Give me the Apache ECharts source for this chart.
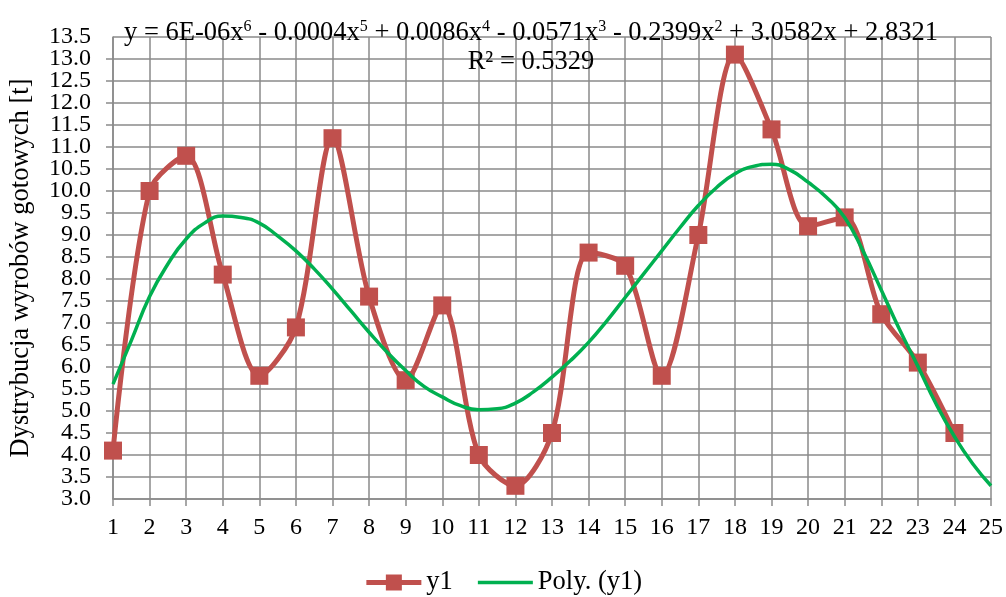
<!DOCTYPE html>
<html><head><meta charset="utf-8">
<script src="https://cdn.jsdelivr.net/npm/echarts@6/dist/echarts.min.js"></script>
<style>html,body{margin:0;padding:0;background:#fff}#c{width:1006px;height:597px}</style>
</head><body><div id="c"></div>
<script>
const xValues = [1,2,3,4,5,6,7,8,9,10,11,12,13,14,15,16,17,18,19,20,21,22,23,24];
const y1Values = [4.1,10.0,10.8,8.1,5.8,6.9,11.2,7.6,5.7,7.4,4.0,3.3,4.5,8.6,8.3,5.8,9.0,13.1,11.4,9.2,9.4,7.2,6.1,4.5];
// trend line every half step
const polyX = [1,1.5,2,2.5,3,3.5,4,4.5,5,5.5,6,6.5,7,7.5,8,8.5,9,9.5,10,10.5,11,11.5,12,12.5,13,13.5,14,14.5,15,15.5,16,16.5,17,17.5,18,18.5,19,19.5,20,20.5,21,21.5,22,22.5,23,23.5,24,24.5,25];
const polyValues = [5.61,6.6,7.6,8.34,8.91,9.27,9.43,9.4,9.27,8.98,8.64,8.23,7.77,7.28,6.79,6.33,5.92,5.56,5.32,5.12,5.03,5.05,5.18,5.44,5.77,6.14,6.56,7.05,7.58,8.11,8.64,9.17,9.67,10.08,10.39,10.56,10.61,10.48,10.2,9.86,9.4,8.64,7.75,6.85,6.02,5.16,4.42,3.8,3.3];
const yTicks = {min:3.0, max:13.5, step:0.5};
const xTicks = {min:1, max:25, step:1};
const seriesNames = ['y1','Poly. (y1)'];
const equationParts = [['y = 6E-06x','6'],[' - 0.0004x','5'],[' + 0.0086x','4'],[' - 0.0571x','3'],[' - 0.2399x','2'],[' + 3.0582x + 2.8321','']];
const r2Text = 'R² = 0.5329';
const yAxisName = 'Dystrybucja wyrobów gotowych [t]';

const FONT = '"Liberation Serif","Times New Roman",serif';
const GRIDC = '#8a8a8a';
const RED = '#C0504D', GREEN = '#00B050';
let eq = equationParts.map(p => '{a|' + p[0] + '}' + (p[1] ? '{s|' + p[1] + '}' : '')).join('');
const yLabelStyle = {fontFamily:FONT,fontSize:24,color:'#000',margin:22,formatter:v=>v.toFixed(1)};

const chart = echarts.init(document.getElementById('c'));
chart.setOption({
  animation:false,
  backgroundColor:'#fff',
  textStyle:{fontFamily:FONT,color:'#000'},
  title:{
    text: eq + '\n{a|' + r2Text + '}',
    left: 526, top: 14, textAlign:'center',
    textStyle:{fontWeight:'normal',rich:{
      a:{fontFamily:FONT,fontSize:26.5,fontWeight:'normal',color:'#000',lineHeight:29},
      s:{fontFamily:FONT,fontSize:16,fontWeight:'normal',color:'#000',lineHeight:29,verticalAlign:'top',padding:[0,0,11,0]}
    }}
  },
  grid:{left:113,right:15,top:37,bottom:98},
  legend:{
    top:564,left:'center',itemWidth:55,itemHeight:20,itemGap:25,
    lineStyle:{width:5},
    textStyle:{fontFamily:FONT,fontSize:26.5,color:'#000'},
    data:[{name:seriesNames[0]},{name:seriesNames[1],icon:'path://M0,0H55V3.5H0Z'}]
  },
  xAxis:{
    type:'value',min:xTicks.min,max:xTicks.max,interval:xTicks.step,
    axisLine:{show:true,lineStyle:{color:GRIDC,width:1.5}},
    axisTick:{show:true,length:7,lineStyle:{color:GRIDC,width:1.5}},
    splitLine:{show:true,lineStyle:{color:GRIDC,width:1.5}},
    axisLabel:{fontFamily:FONT,fontSize:24,color:'#000',margin:17,showMinLabel:true,showMaxLabel:true}
  },
  yAxis:[{
    type:'value',min:yTicks.min,max:yTicks.max,interval:yTicks.step,
    name:yAxisName,nameLocation:'middle',nameGap:78,
    nameTextStyle:{fontFamily:FONT,fontSize:26.5,color:'#000'},
    axisLine:{show:true,lineStyle:{color:GRIDC,width:1.5}},
    axisTick:{show:true,length:7,lineStyle:{color:GRIDC,width:1.5}},
    splitLine:{show:true,lineStyle:{color:GRIDC,width:1.5}},
    axisLabel:Object.assign({showMinLabel:false,showMaxLabel:false},yLabelStyle)
  },{
    // carries only the end labels (3.0 and 13.5) so they are not dropped by overlap checks
    type:'value',position:'left',min:yTicks.min,max:yTicks.max,interval:yTicks.max-yTicks.min,
    axisLine:{show:false},axisTick:{show:false},splitLine:{show:false},
    axisLabel:Object.assign({showMinLabel:true,showMaxLabel:true},yLabelStyle)
  }],
  series:[
    {name:seriesNames[0],type:'line',smooth:0.3,
     data:xValues.map((x,i)=>[x,y1Values[i]]),
     symbol:'rect',symbolSize:18,showAllSymbol:true,
     lineStyle:{color:RED,width:5},
     itemStyle:{color:RED},z:3},
    {name:seriesNames[1],type:'line',smooth:0.5,
     data:polyX.map((x,i)=>[x,polyValues[i]]),
     symbol:'none',
     lineStyle:{color:GREEN,width:3.5},
     itemStyle:{color:GREEN},z:4}
  ]
});
</script></body></html>
